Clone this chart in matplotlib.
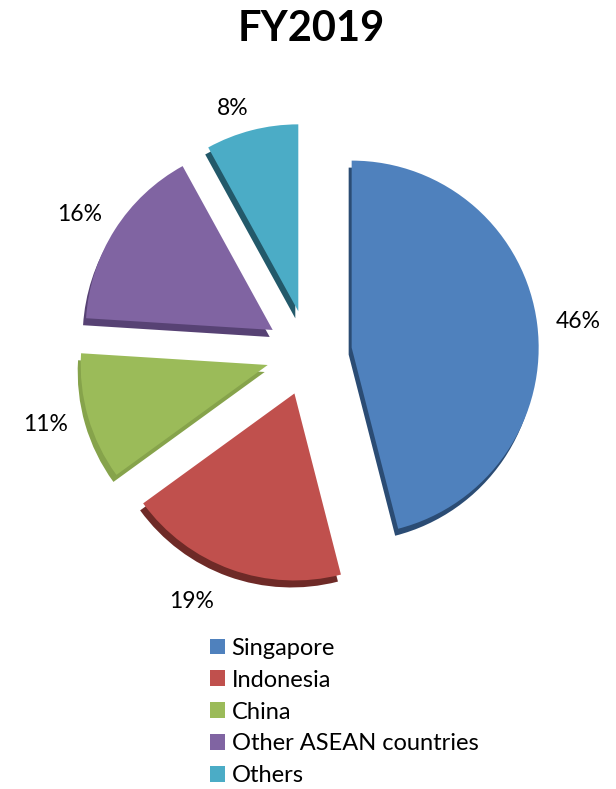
import matplotlib
matplotlib.use("Agg")
import matplotlib.pyplot as plt
from matplotlib.patches import Patch

plt.rcParams['font.family'] = ['Lato', 'DejaVu Sans']

categories = ["Singapore", "Indonesia", "China", "Other ASEAN countries", "Others"]
shares = [46, 19, 11, 16, 8]
colors = ["#4F81BD", "#C0504D", "#9BBB59", "#8064A2", "#4BACC6"]
side_colors = ["#2B4C74", "#6E2A27", "#86A34B", "#574274", "#23596A"]

W, H = 616, 789
R = 187.0            # pie radius in pixels
CX, CY = 309, 353    # pie centre, pixels from top-left
EXPL = 43 / R

# small nudges (pixels, x right / y up) for the percentage labels
label_nudge = [(0, -2), (-26, 7), (-3, 4), (0, -7), (-9, -18)]

fig = plt.figure(figsize=(W / 100, H / 100), dpi=100)
ax = fig.add_axes([0, 0, 1, 1])

# extruded "side" of each slice, drawn under the face with a small offset
ax.pie(shares, colors=side_colors, startangle=90, counterclock=False,
       explode=[EXPL] * 5, radius=1, center=(-3 / R, -7 / R),
       wedgeprops=dict(linewidth=0))
wedges, _, autotexts = ax.pie(
    shares, colors=colors, startangle=90, counterclock=False,
    explode=[EXPL] * 5, radius=1, center=(0, 0),
    autopct=lambda p: f"{p:.0f}%", pctdistance=1.22,
    textprops=dict(fontsize=16.5, color="black"),
    wedgeprops=dict(linewidth=0))
for t, (dx, dy) in zip(autotexts, label_nudge):
    x, y = t.get_position()
    t.set_position((x + dx / R, y + dy / R))

ax.set_xlim(-CX / R, (W - CX) / R)
ax.set_ylim(-(H - CY) / R, CY / R)
ax.set_aspect('equal')
ax.axis('off')

fig.text(311 / W, 1 - 29 / H, "FY2019", ha='center', va='center',
         fontsize=30, fontweight='bold')

handles = [Patch(facecolor=c, edgecolor='none') for c in colors]
fig.legend(handles, categories, loc='upper left',
           bbox_to_anchor=(198 / W, 1 - 626 / H), frameon=False,
           fontsize=17, handlelength=0.65, handleheight=0.65,
           handletextpad=0.27, labelspacing=0.46, borderpad=0)

fig.savefig("out.png", dpi=100)
